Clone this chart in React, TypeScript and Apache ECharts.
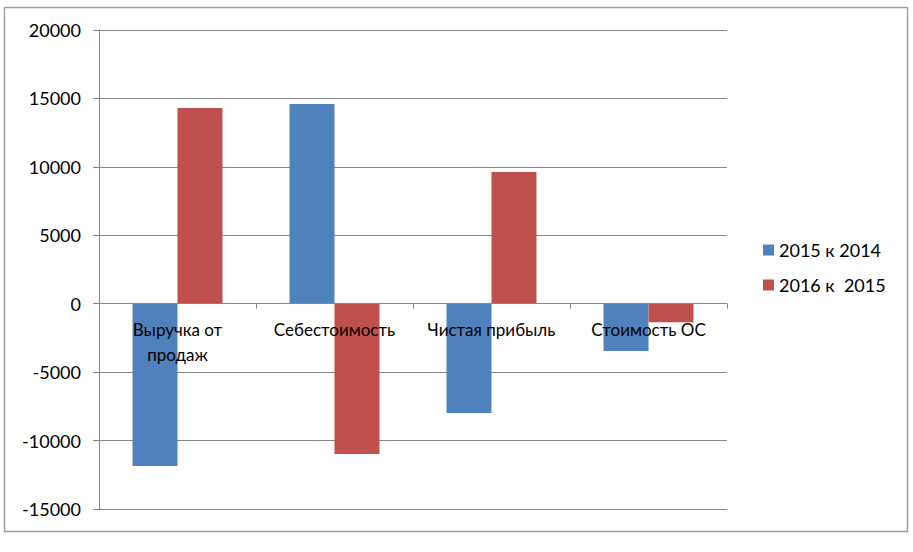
import React, { useEffect, useRef } from "react";
import * as echarts from "echarts";

const categories = ["Выручка от\nпродаж", "Себестоимость", "Чистая прибыль", "Стоимость ОС"];
const seriesNames = ["2015 к 2014", "2016 к  2015"];
const values2015 = [-11860, 14590, -7990, -3460];
const values2016 = [14300, -10980, 9620, -1360];
const colors = ["#4F81BD", "#C0504D"];

export default function App() {
  const ref = useRef<HTMLDivElement>(null);
  useEffect(() => {
    if (!ref.current) return;
    const chart = echarts.init(ref.current, undefined, { renderer: "svg" });
    const font = "Lato, 'Open Sans', sans-serif";
    chart.setOption({
      animation: false,
      backgroundColor: "#ffffff",
      textStyle: { fontFamily: font },
      graphic: [
        {
          type: "rect",
          shape: { x: 4.5, y: 7.5, width: 903, height: 524 },
          style: { fill: "none", stroke: "#A0A0A0", lineWidth: 1.5 },
          silent: true,
        },
      ],
      legend: {
        orient: "vertical",
        left: 758,
        top: 236,
        itemGap: 17,
        itemWidth: 11,
        itemHeight: 11,
        icon: "rect",
        textStyle: { fontSize: 18, color: "#000", fontFamily: font },
        data: seriesNames,
      },
      grid: {
        left: 99,
        right: 186,
        top: 30,
        bottom: 43,
        containLabel: false,
        outerBoundsMode: "none",
      },
      xAxis: [
        {
          type: "category",
          data: categories,
          axisLine: { onZero: true, lineStyle: { color: "#868686", width: 1 } },
          axisTick: { show: true, length: 5, lineStyle: { color: "#868686" } },
          axisLabel: { show: false },
          splitLine: { show: false },
          z: 5,
        },
        {
          type: "category",
          data: categories,
          position: "bottom",
          offset: -205,
          axisLine: { show: false, onZero: false },
          axisTick: { show: false },
          axisLabel: {
            color: "#000",
            fontSize: 17,
            fontFamily: font,
            margin: 13,
            lineHeight: 25,
            interval: 0,
            hideOverlap: false,
          },
          splitLine: { show: false },
          z: 6,
        },
      ],
      yAxis: {
        type: "value",
        min: -15000,
        max: 20000,
        interval: 5000,
        axisLine: { show: true, lineStyle: { color: "#868686" } },
        axisTick: { show: true, length: 6, lineStyle: { color: "#868686" } },
        axisLabel: {
          color: "#000",
          fontSize: 18,
          fontFamily: font,
          margin: 18,
          formatter: (v: number) => String(v),
        },
        splitLine: { show: true, lineStyle: { color: "#868686", width: 1 } },
      },
      series: [
        {
          name: seriesNames[0],
          type: "bar",
          xAxisIndex: 0,
          data: values2015,
          itemStyle: { color: colors[0] },
          barGap: "0%",
          barCategoryGap: "42.7%",
          z: 2,
        },
        {
          name: seriesNames[1],
          type: "bar",
          xAxisIndex: 0,
          data: values2016,
          itemStyle: { color: colors[1] },
          barGap: "0%",
          barCategoryGap: "42.7%",
          z: 2,
        },
      ],
    });
    return () => chart.dispose();
  }, []);
  return (
    <div
      ref={ref}
      style={{ position: "fixed", left: 0, top: 0, width: 913, height: 552 }}
    />
  );
}
